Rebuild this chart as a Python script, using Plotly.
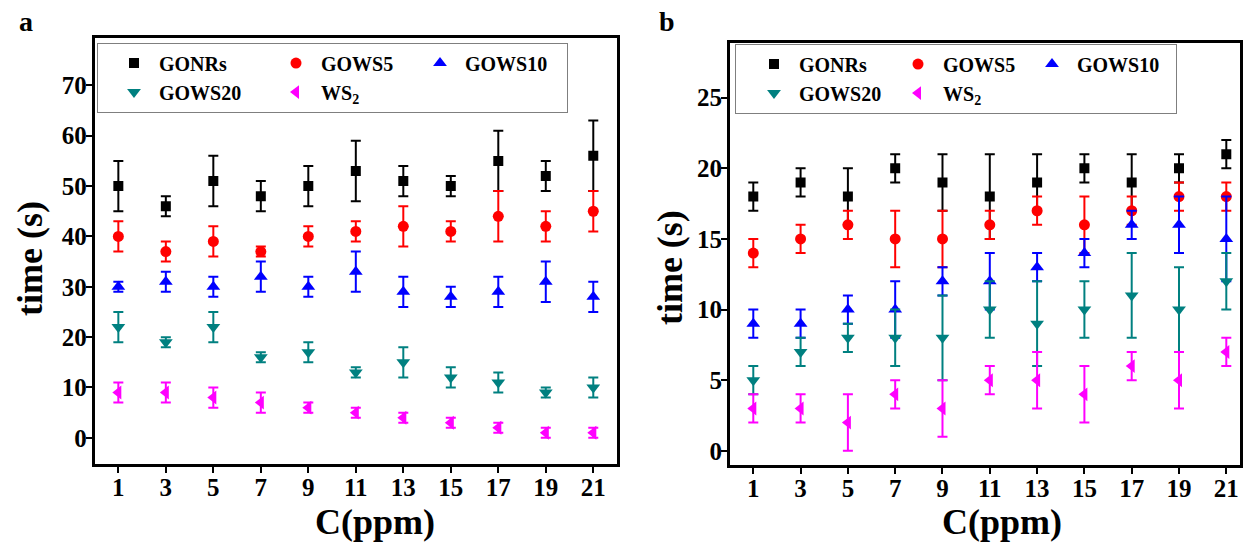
import plotly.graph_objects as go

# Concentration (ppm) on the x axis
conc = [1, 3, 5, 7, 9, 11, 13, 15, 17, 19, 21]

# Panel a: time (s) and error for each sample
a_gonrs = [50, 46, 51, 48, 50, 53, 51, 50, 55, 52, 56]
a_gonrs_err = [5, 2, 5, 3, 4, 6, 3, 2, 6, 3, 7]
a_gows5 = [40, 37, 39, 37, 40, 41, 42, 41, 44, 42, 45]
a_gows5_err = [3, 2, 3, 1, 2, 2, 4, 2, 5, 3, 4]
a_gows10 = [30, 31, 30, 32, 30, 33, 29, 28, 29, 31, 28]
a_gows10_err = [1, 2, 2, 3, 2, 4, 3, 2, 3, 4, 3]
a_gows20 = [22, 19, 22, 16, 17, 13, 15, 12, 11, 9, 10]
a_gows20_err = [3, 1, 3, 1, 2, 1, 3, 2, 2, 1, 2]
a_ws2 = [9, 9, 8, 7, 6, 5, 4, 3, 2, 1, 1]
a_ws2_err = [2, 2, 2, 2, 1, 1, 1, 1, 1, 1, 1]

# Panel b: time (s) and error for each sample
b_gonrs = [18, 19, 18, 20, 19, 18, 19, 20, 19, 20, 21]
b_gonrs_err = [1, 1, 2, 1, 2, 3, 2, 1, 2, 1, 1]
b_gows5 = [14, 15, 16, 15, 15, 16, 17, 16, 17, 18, 18]
b_gows5_err = [1, 1, 1, 2, 2, 1, 1, 2, 1, 1, 1]
b_gows10 = [9, 9, 10, 10, 12, 12, 13, 14, 16, 16, 15]
b_gows10_err = [1, 1, 1, 2, 1, 2, 1, 1, 1, 2, 3]
b_gows20 = [5, 7, 8, 8, 8, 10, 9, 10, 11, 10, 12]
b_gows20_err = [1, 1, 1, 2, 3, 2, 3, 2, 3, 3, 2]
b_ws2 = [3, 3, 2, 4, 3, 5, 5, 4, 6, 5, 7]
b_ws2_err = [1, 1, 2, 1, 2, 1, 2, 2, 1, 2, 1]

names = ["GONRs", "GOWS5", "GOWS10", "GOWS20", "WS<sub>2</sub>"]
colors = ["#000000", "#ff0000", "#0000ff", "#008080", "#ff00ff"]
symbols = ["square", "circle", "triangle-up", "triangle-down", "triangle-left"]
sizes = [10, 11, 12, 12, 12]
columns = [1, 2, 3, 1, 2]  # legend column of each sample

FONT = "Liberation Serif"

panels = [
    dict(key="a", xa="x", ya="y", legend="legend",
         vals=[a_gonrs, a_gows5, a_gows10, a_gows20, a_ws2],
         errs=[a_gonrs_err, a_gows5_err, a_gows10_err, a_gows20_err, a_ws2_err],
         colw={1: 95, 2: 77, 3: 97}),
    dict(key="b", xa="x2", ya="y2", legend="legend2",
         vals=[b_gonrs, b_gows5, b_gows10, b_gows20, b_ws2],
         errs=[b_gonrs_err, b_gows5_err, b_gows10_err, b_gows20_err, b_ws2_err],
         colw={1: 75, 2: 65, 3: 94}),
]

fig = go.Figure()
for p in panels:
    for i in range(5):
        fig.add_trace(go.Scatter(
            x=conc, y=p["vals"][i], mode="markers", name=names[i],
            xaxis=p["xa"], yaxis=p["ya"], legend=p["legend"],
            legendgroup=f"{p['key']}{columns[i]}",
            legendwidth=p["colw"][columns[i]],
            marker=dict(symbol=symbols[i], color=colors[i], size=sizes[i], line=dict(width=0)),
            error_y=dict(type="data", array=p["errs"][i], color=colors[i], thickness=2, width=5),
            hoverinfo="skip",
        ))

tick_font = dict(family=FONT, size=25, color="black", weight="bold")
axis_common = dict(showline=True, linecolor="black", linewidth=2.5, mirror=True,
                   ticks="outside", ticklen=6, tickwidth=2, tickcolor="black",
                   showgrid=False, zeroline=False, tickfont=tick_font)
x_common = dict(tickvals=conc, ticklabelstandoff=-7, **axis_common)
y_common = dict(ticklabelstandoff=-6, **axis_common)

fig.update_layout(
    width=1243, height=547, margin=dict(l=0, r=0, t=0, b=0),
    paper_bgcolor="white", plot_bgcolor="white",
    xaxis=dict(domain=[0.0761, 0.4964], range=[0, 22], anchor="y", **x_common),
    yaxis=dict(domain=[0.1517, 0.9305], range=[-5.2, 79.4], tickvals=[0, 10, 20, 30, 40, 50, 60, 70],
               anchor="x", **y_common),
    xaxis2=dict(domain=[0.587, 0.9976], range=[0, 21.58], anchor="y2", **x_common),
    yaxis2=dict(domain=[0.150, 0.922], range=[-1, 28.9], tickvals=[0, 5, 10, 15, 20, 25],
                anchor="x2", **y_common),
    showlegend=True,
)

legend_common = dict(orientation="h", traceorder="grouped", bgcolor="white",
                     bordercolor="#7f7f7f", borderwidth=1, itemwidth=40, tracegroupgap=0,
                     xanchor="left", yanchor="top",
                     font=dict(family=FONT, size=20, color="black", weight="bold"))
fig.update_layout(
    legend=dict(x=97 / 1243, y=1 - 42.6 / 547, indentation=12, **legend_common),
    legend2=dict(x=735 / 1243, y=1 - 43.6 / 547, indentation=14, **legend_common),
)

title_font = dict(family=FONT, size=36, color="black", weight="bold")
label_font = dict(family=FONT, size=28, color="black", weight="bold")
annots = [
    dict(text="time (s)", x=30 / 1243, y=0.5265, textangle=-90, font=title_font),
    dict(text="time (s)", x=670 / 1243, y=0.5117, textangle=-90, font=title_font),
    dict(text="C(ppm)", x=375 / 1243, y=1 - 522 / 547, font=title_font),
    dict(text="C(ppm)", x=1002 / 1243, y=1 - 522 / 547, font=title_font),
    dict(text="a", x=26 / 1243, y=1 - 22 / 547, font=label_font),
    dict(text="b", x=667 / 1243, y=1 - 22 / 547, font=label_font),
]
for a in annots:
    fig.add_annotation(xref="paper", yref="paper", showarrow=False,
                       xanchor="center", yanchor="middle", **a)

fig.write_html("out.html")
